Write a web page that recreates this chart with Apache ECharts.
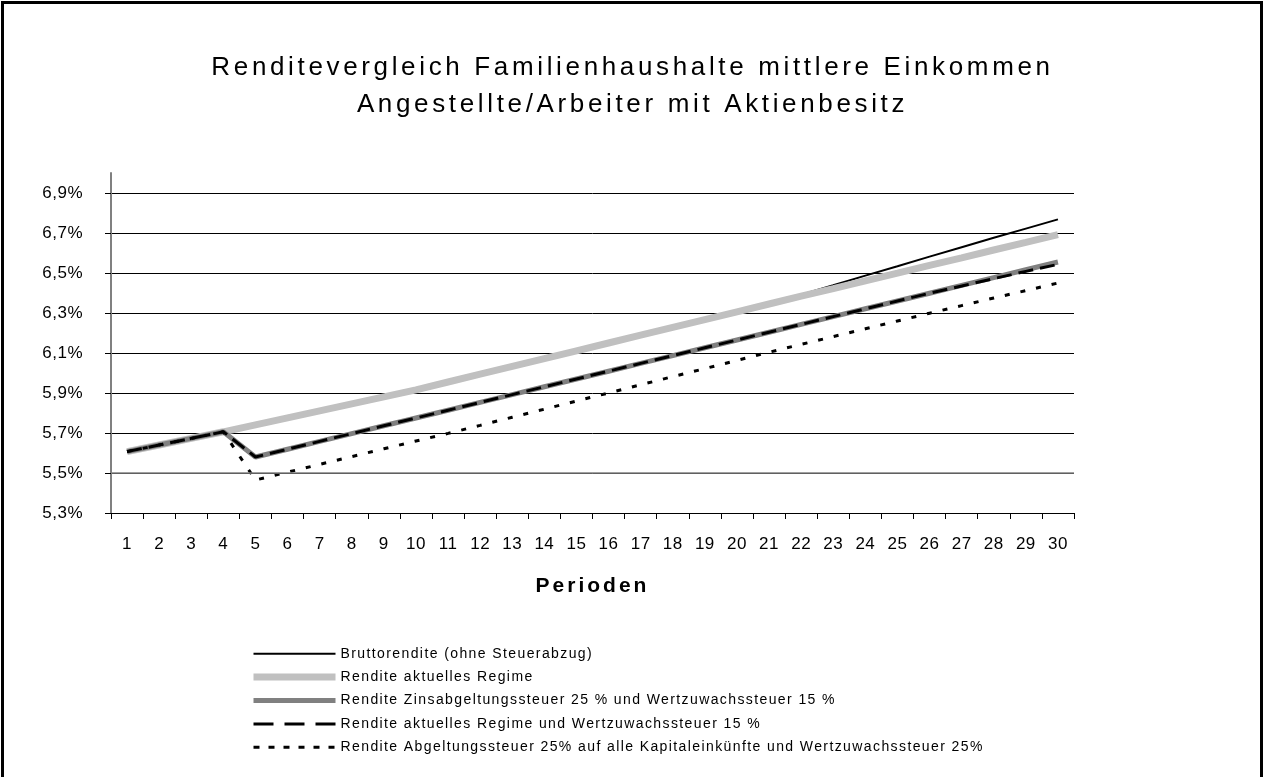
<!DOCTYPE html>
<html>
<head>
<meta charset="utf-8">
<script src="https://cdn.jsdelivr.net/npm/echarts@6/dist/echarts.min.js"></script>
<style>
  html, body { margin: 0; padding: 0; background: #fff; }
  #chart { width: 1265px; height: 777px; }
</style>
</head>
<body>
<div id="chart"></div>
<script>
const periods = ['1', '2', '3', '4', '5', '6', '7', '8', '9', '10', '11', '12', '13', '14', '15',
  '16', '17', '18', '19', '20', '21', '22', '23', '24', '25', '26', '27', '28', '29', '30']

const brutto = [5.607, 5.640, 5.673, 5.706, 5.741, 5.776, 5.811, 5.846, 5.881, 5.916, 5.955, 5.994, 6.033, 6.072, 6.111,
  6.150, 6.189, 6.228, 6.267, 6.306, 6.345, 6.392, 6.439, 6.487, 6.534, 6.582, 6.629, 6.676, 6.722, 6.768]
const aktuell = [5.607, 5.640, 5.673, 5.706, 5.741, 5.776, 5.811, 5.846, 5.881, 5.916, 5.955, 5.994, 6.033, 6.072, 6.111,
  6.150, 6.189, 6.228, 6.267, 6.306, 6.345, 6.384, 6.422, 6.461, 6.499, 6.538, 6.576, 6.615, 6.653, 6.692]
const zinsAbg = [5.607, 5.640, 5.673, 5.706, 5.580, 5.619, 5.658, 5.697, 5.736, 5.775, 5.814, 5.853, 5.892, 5.931, 5.970,
  6.009, 6.048, 6.087, 6.126, 6.165, 6.204, 6.243, 6.282, 6.321, 6.360, 6.399, 6.438, 6.477, 6.516, 6.555]
const aktuellWz = [5.607, 5.640, 5.673, 5.706, 5.580, 5.619, 5.658, 5.697, 5.736, 5.775, 5.814, 5.853, 5.892, 5.931, 5.970,
  6.009, 6.048, 6.087, 6.126, 6.165, 6.204, 6.243, 6.282, 6.321, 6.360, 6.399, 6.435, 6.472, 6.508, 6.543]
const abgeltung = [5.607, 5.640, 5.673, 5.706, 5.465, 5.504, 5.543, 5.582, 5.621, 5.660, 5.698, 5.738, 5.779, 5.819, 5.860,
  5.900, 5.941, 5.982, 6.022, 6.063, 6.104, 6.143, 6.182, 6.221, 6.260, 6.299, 6.337, 6.375, 6.412, 6.450]

const yTicks = [5.3, 5.5, 5.7, 5.9, 6.1, 6.3, 6.5, 6.7, 6.9]

const FONT = 'Liberation Sans'

// the old Excel picture spreads its text out; canvas letterSpacing per font size copies that
const SPACING = { 26: '3.65px', 14: '1.4px', 17: '0.5px', 21: '3px' }
for (const fn of ['fillText', 'strokeText', 'measureText']) {
  const orig = CanvasRenderingContext2D.prototype[fn]
  CanvasRenderingContext2D.prototype[fn] = function (...args) {
    const m = /(\d+(?:\.\d+)?)px/.exec(this.font)
    this.letterSpacing = (m && SPACING[m[1]]) || '0px'
    return orig.apply(this, args)
  }
}

const chart = echarts.init(document.getElementById('chart'))

const line = (name, data, color, width, type) => ({
  name,
  type: 'line',
  data,
  symbol: 'none',
  animation: false,
  lineStyle: { color, width, type },
  itemStyle: { color }
})

const series = [
  line('Bruttorendite (ohne Steuerabzug)', brutto, '#000', 2, 'solid'),
  line('Rendite aktuelles Regime', aktuell, '#c0c0c0', 7, 'solid'),
  line('Rendite Zinsabgeltungssteuer 25 % und Wertzuwachssteuer 15 %', zinsAbg, '#808080', 5, 'solid'),
  line('Rendite aktuelles Regime und Wertzuwachssteuer 15 %', aktuellWz, '#000', 3, [15, 7]),
  line('Rendite Abgeltungssteuer 25% auf alle Kapitaleinkünfte und Wertzuwachssteuer 25%', abgeltung, '#000', 3, [5, 11])
]

// grey 5,5% line as in the original
series[0].markLine = {
  silent: true,
  symbol: 'none',
  label: { show: false },
  lineStyle: { color: '#808080', width: 1.5, type: 'solid' },
  data: [{ yAxis: 5.5 }]
}

const option = {
  backgroundColor: '#fff',
  textStyle: { fontFamily: FONT, color: '#000' },
  title: {
    text: 'Renditevergleich Familienhaushalte mittlere Einkommen\nAngestellte/Arbeiter mit Aktienbesitz',
    left: 'center',
    top: 44,
    textStyle: { fontFamily: FONT, fontSize: 26, fontWeight: 'normal', color: '#000', lineHeight: 37 }
  },
  graphic: [{
    type: 'rect',
    shape: { x: 2.5, y: 2.5, width: 1259, height: 800 },
    style: { fill: 'none', stroke: '#000', lineWidth: 3 },
    silent: true
  }],
  grid: { left: 111, right: 191, top: 173, bottom: 264 },
  xAxis: {
    type: 'category',
    data: periods,
    boundaryGap: true,
    name: 'Perioden',
    nameLocation: 'middle',
    nameGap: 61,
    nameTextStyle: { fontFamily: FONT, fontSize: 21, fontWeight: 'bold', color: '#000' },
    axisLine: { lineStyle: { color: '#000', width: 1 } },
    axisTick: { show: true, length: 6, lineStyle: { color: '#000' } },
    axisLabel: { fontFamily: FONT, fontSize: 17, color: '#000', margin: 23, interval: 0 },
    splitLine: { show: false }
  },
  yAxis: {
    type: 'value',
    min: 5.3,
    max: 7.0,
    interval: 0.2,
    axisLine: { show: true, lineStyle: { color: '#808080', width: 2 } },
    axisTick: { show: true, length: 6, lineStyle: { color: '#000' }, customValues: yTicks },
    axisLabel: {
      fontFamily: FONT,
      fontSize: 17,
      color: '#000',
      margin: 28,
      customValues: yTicks,
      formatter: (v) => v.toFixed(1).replace('.', ',') + '%'
    },
    splitLine: { show: true, lineStyle: { color: '#000', width: 1 } }
  },
  legend: {
    orient: 'vertical',
    left: 245,
    top: 641,
    itemWidth: 82,
    itemHeight: 14,
    itemGap: 8,
    itemStyle: { color: 'rgba(0,0,0,0)', borderWidth: 0, opacity: 0 },
    textStyle: { fontFamily: FONT, fontSize: 14, color: '#000', lineHeight: 14 },
    data: [
      { name: series[0].name, lineStyle: { width: 2 } },
      { name: series[1].name, lineStyle: { width: 7 } },
      { name: series[2].name, lineStyle: { width: 5 } },
      { name: series[3].name, lineStyle: { width: 3, type: [20, 11] } },
      { name: series[4].name, lineStyle: { width: 3, type: [6, 9] } }
    ]
  },
  series
}

chart.setOption(option)
</script>
</body>
</html>
